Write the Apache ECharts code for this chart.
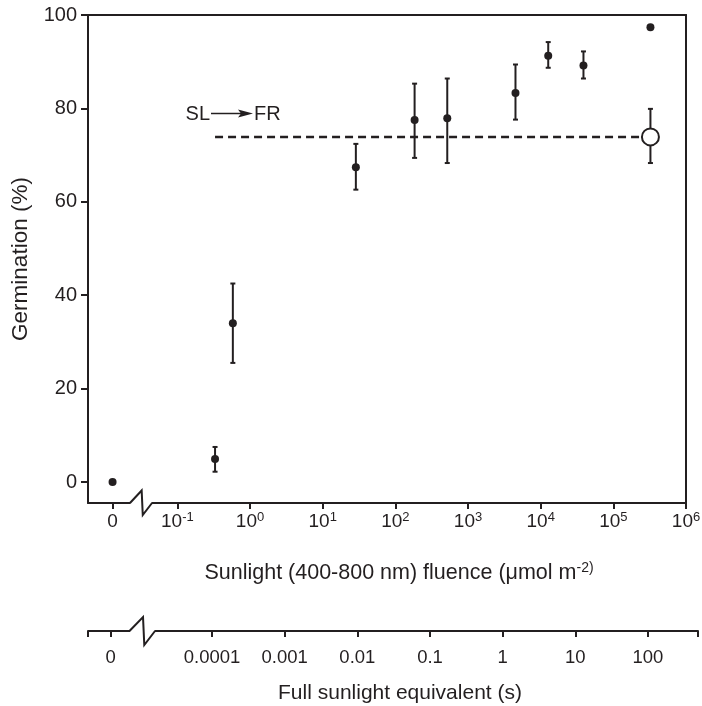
<!DOCTYPE html>
<html><head><meta charset="utf-8">
<script src="https://cdn.jsdelivr.net/npm/echarts@6/dist/echarts.min.js"></script>
<style>html,body{margin:0;padding:0;background:#fff}#c{width:702px;height:706px}</style>
</head><body><div id="c"></div>
<script>
// ---- data ----
const fluence      = [0.33, 0.58, 28.6, 184, 518, 4500, 12700, 38800, 324000]; // µmol m-2
const germination  = [4.9, 34, 67.4, 77.5, 77.9, 83.3, 91.3, 89.2, 97.4];      // %
const errLow       = [2.2, 25.5, 62.6, 69.4, 68.3, 77.6, 88.7, 86.4, null];
const errHigh      = [7.5, 42.5, 72.4, 85.3, 86.4, 89.4, 94.2, 92.2, null];
const zeroFluenceGermination = [0];          // dark control (fluence 0)
const frFluence    = [324000];               // SL -> FR
const frGermination= [73.9];
const frErrLow     = [68.3];
const frErrHigh    = [79.9];
const frLineStartFluence = 0.33;
const yTicks = [0, 20, 40, 60, 80, 100];
const fluenceTickExps = [-1, 0, 1, 2, 3, 4, 5, 6];
const secondsTickExps = [-4, -3, -2, -1, 0, 1, 2];
const secondsTickLabels = ['0.0001', '0.001', '0.01', '0.1', '1', '10', '100'];

// ---- axis layout (log10 units) ----
const X1MIN = -2.23, X1MAX = 6, ZERO1 = -1.892;
const X2MIN = -5.708, X2MAX = 2.689, ZERO2 = -5.398;
const C = '#231f20';
const FONT = '"Liberation Sans", Arial, Helvetica, sans-serif';

const chart = echarts.init(document.getElementById('c'), null, {renderer: 'canvas'});
const lg = Math.log10;

function errRender(params, api) {
  const x = api.value(0), lo = api.value(1), hi = api.value(2);
  const a = api.coord([x, lo]), b = api.coord([x, hi]);
  const cap = 2.5, st = {stroke: C, lineWidth: 2};
  return {type: 'group', children: [
    {type: 'line', shape: {x1: a[0], y1: a[1], x2: b[0], y2: b[1]}, style: st},
    {type: 'line', shape: {x1: a[0] - cap, y1: a[1], x2: a[0] + cap, y2: a[1]}, style: st},
    {type: 'line', shape: {x1: b[0] - cap, y1: b[1], x2: b[0] + cap, y2: b[1]}, style: st}
  ]};
}

const mainPts = fluence.map((f, i) => [lg(f), germination[i]]).concat([[ZERO1, zeroFluenceGermination[0]]]);
const errPts = fluence.map((f, i) => [lg(f), errLow[i], errHigh[i]]).filter(d => d[1] != null);
const frPts = frFluence.map((f, i) => [lg(f), frGermination[i]]);
const frErr = frFluence.map((f, i) => [lg(f), frErrLow[i], frErrHigh[i]]);

const axLine = {show: true, onZero: false, lineStyle: {color: C, width: 2}};
const sup = {
  b: {fontSize: 19, lineHeight: 21, color: C, fontFamily: FONT},
  s: {fontSize: 13, lineHeight: 13, verticalAlign: 'top', color: C, fontFamily: FONT}
};

const option = {
  animation: false,
  backgroundColor: '#fff',
  textStyle: {fontFamily: FONT, color: C},
  grid: [
    {left: 88, top: 15, right: 16, bottom: 203, outerBoundsMode: 'none'},
    {left: 88, top: 600, right: 4, bottom: 75, outerBoundsMode: 'none'}
  ],
  xAxis: [
    {gridIndex: 0, type: 'value', min: X1MIN, max: X1MAX, position: 'bottom',
      axisLine: axLine,
      axisTick: {show: true, length: 6, lineStyle: {color: C, width: 2}, customValues: [ZERO1].concat(fluenceTickExps)},
      axisLabel: {margin: 8, customValues: [ZERO1].concat(fluenceTickExps), rich: sup,
        formatter: v => Math.abs(v - ZERO1) < 1e-6 ? '{b|0}' : '{b|10}{s|' + Math.round(v) + '}'},
      splitLine: {show: false}},
    {gridIndex: 0, type: 'value', min: X1MIN, max: X1MAX, position: 'top',
      axisLine: axLine, axisTick: {show: false}, axisLabel: {show: false}, splitLine: {show: false}},
    {gridIndex: 1, type: 'value', min: X2MIN, max: X2MAX, position: 'bottom',
      axisLine: axLine,
      axisTick: {show: true, length: 6, lineStyle: {color: C, width: 2},
        customValues: [X2MIN, ZERO2].concat(secondsTickExps, [X2MAX])},
      axisLabel: {margin: 17, fontSize: 18.5, color: C, fontFamily: FONT,
        customValues: [ZERO2].concat(secondsTickExps),
        formatter: v => Math.abs(v - ZERO2) < 1e-6 ? '0' : secondsTickLabels[secondsTickExps.indexOf(Math.round(v))]},
      splitLine: {show: false}}
  ],
  yAxis: [
    {gridIndex: 0, type: 'value', min: -4.5, max: 100, position: 'left',
      axisLine: axLine,
      axisTick: {show: true, length: 7, lineStyle: {color: C, width: 2}, customValues: yTicks},
      axisLabel: {margin: 11, fontSize: 20, color: C, fontFamily: FONT, customValues: yTicks},
      splitLine: {show: false},
      name: 'Germination (%)', nameLocation: 'middle', nameGap: 56,
      nameTextStyle: {fontSize: 22.5, color: C, fontFamily: FONT}},
    {gridIndex: 0, type: 'value', min: -4.5, max: 100, position: 'right',
      axisLine: axLine, axisTick: {show: false}, axisLabel: {show: false}, splitLine: {show: false}},
    {gridIndex: 1, type: 'value', show: false, min: 0, max: 1}
  ],
  series: [
    {type: 'custom', xAxisIndex: 0, yAxisIndex: 0, renderItem: errRender, data: errPts, z: 2},
    {type: 'custom', xAxisIndex: 0, yAxisIndex: 0, renderItem: errRender, data: frErr, z: 2},
    {type: 'line', xAxisIndex: 0, yAxisIndex: 0, symbol: 'none', z: 2,
      lineStyle: {color: C, width: 2.5, type: [8, 5]},
      data: [[lg(frLineStartFluence), frGermination[0]], frPts[0]]},
    {type: 'scatter', xAxisIndex: 0, yAxisIndex: 0, symbol: 'circle', symbolSize: 8, z: 3,
      itemStyle: {color: C, opacity: 1}, data: mainPts},
    {type: 'scatter', xAxisIndex: 0, yAxisIndex: 0, symbol: 'circle', symbolSize: 17, z: 4,
      itemStyle: {color: '#fff', borderColor: C, borderWidth: 2, opacity: 1}, data: frPts}
  ]
};
chart.setOption(option);

// ---- decorations: axis breaks, titles, SL->FR annotation ----
const y1 = chart.convertToPixel({gridIndex: 0}, [0, -4.5])[1];
const y2 = chart.convertToPixel({gridIndex: 1}, [0, 0])[1];
function brk(x0, y, up, dn, w) {
  return [
    {type: 'rect', z: 100, shape: {x: x0 + 0.5, y: y - 2, width: w - 1, height: 4}, style: {fill: '#fff'}},
    {type: 'polyline', z: 101, shape: {points: [[x0, y], [x0 + w * 0.53, y - up], [x0 + w * 0.58, y + dn], [x0 + w, y]]},
      style: {stroke: C, lineWidth: 2, fill: null}}
  ];
}
const g = [].concat(
  brk(130, y1, 12.5, 12, 22),
  brk(129.5, y2, 14, 14, 25.5),
  [
    {type: 'text', z: 100, x: 399, y: 573, style: {
      text: '{a|Sunlight (400-800 nm) fluence (μmol m}{s|-2)}', align: 'center', verticalAlign: 'middle',
      rich: {a: {fontSize: 21.5, lineHeight: 24, fill: C, fontFamily: FONT},
             s: {fontSize: 14, lineHeight: 14, verticalAlign: 'top', fill: C, fontFamily: FONT}}}},
    {type: 'text', z: 100, x: 400, y: 693, style: {
      text: 'Full sunlight equivalent (s)', align: 'center', verticalAlign: 'middle',
      fontSize: 21, fill: C, fontFamily: FONT}},
    {type: 'text', z: 100, x: 210, y: 114, style: {text: 'SL', align: 'right', verticalAlign: 'middle',
      fontSize: 20, fill: C, fontFamily: FONT}},
    {type: 'line', z: 100, shape: {x1: 211, y1: 113.5, x2: 242, y2: 113.5}, style: {stroke: C, lineWidth: 1.5}},
    {type: 'polygon', z: 100, shape: {points: [[238, 109.5], [253, 113.5], [238, 117.5], [241, 113.5]]}, style: {fill: C}},
    {type: 'text', z: 100, x: 254, y: 114, style: {text: 'FR', align: 'left', verticalAlign: 'middle',
      fontSize: 20, fill: C, fontFamily: FONT}}
  ]
);
chart.setOption({graphic: {elements: g}});
</script>
</body></html>
